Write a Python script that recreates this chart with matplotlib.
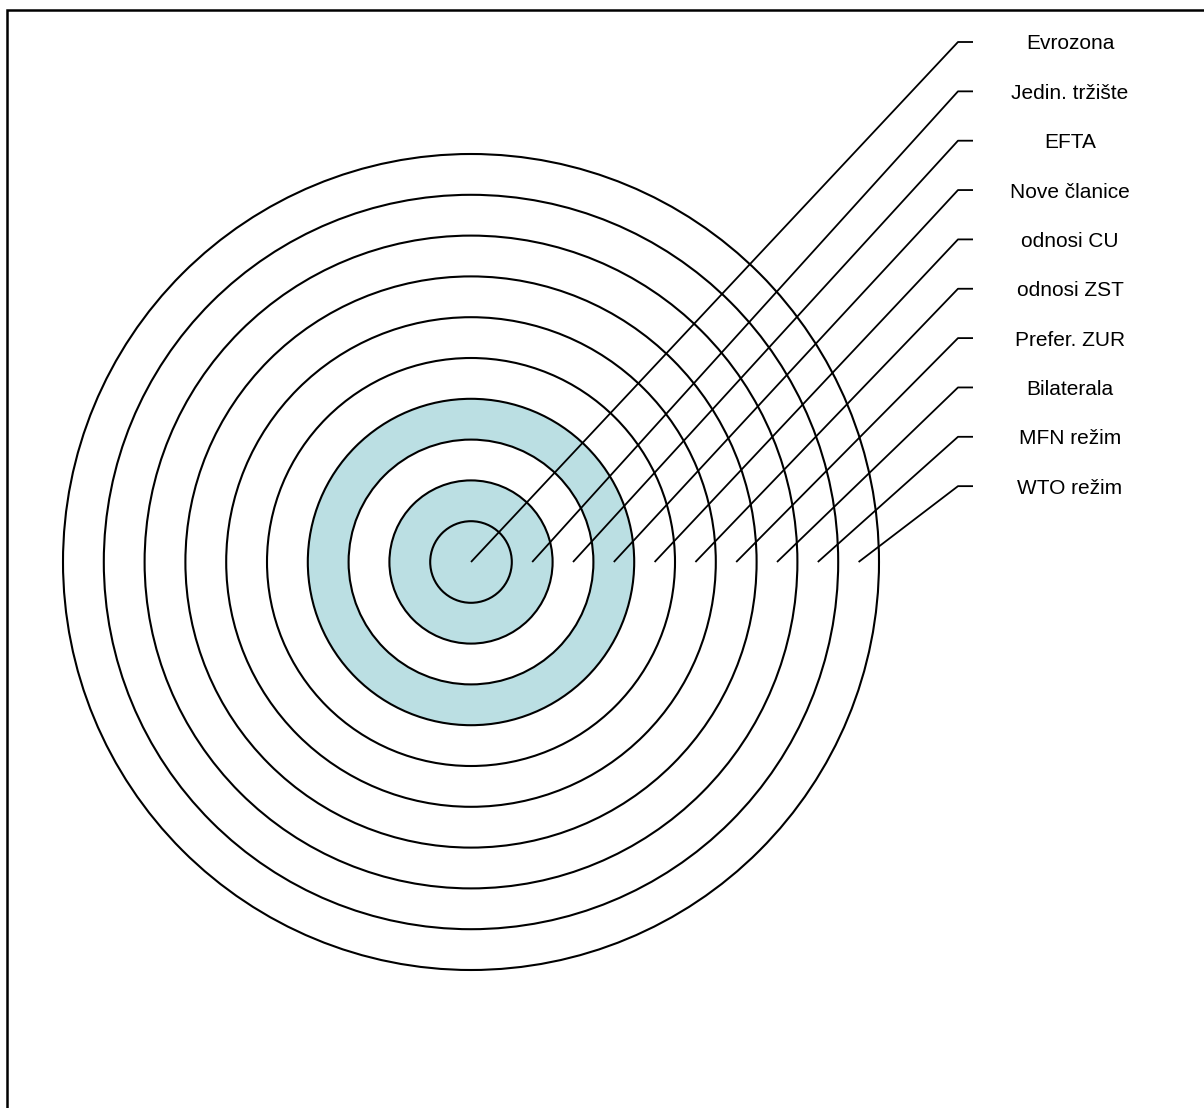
import matplotlib
matplotlib.use("Agg")
import matplotlib.pyplot as plt
from matplotlib.patches import Circle, Rectangle
import numpy as np

# ---- data ----
labels = ["Evrozona", "Jedin. tržište", "EFTA", "Nove članice", "odnosi CU",
          "odnosi ZST", "Prefer. ZUR", "Bilaterala", "MFN režim", "WTO režim"]
ring_widths = [1, 1, 1, 1, 1, 1, 1, 1, 1, 1]
ring_colors = ["#BBDFE3", "#BBDFE3", "#FFFFFF", "#BBDFE3", "#FFFFFF",
               "#FFFFFF", "#FFFFFF", "#FFFFFF", "#FFFFFF", "#FFFFFF"]

# ---- layout ----
W, H = 1204, 1108
cx_px, cy_px = 471, 562
unit_px = 40.8

fig = plt.figure(figsize=(W / 100, H / 100), dpi=100)
ax = fig.add_axes([0, 0, 1, 1])
ax.set_xlim(-cx_px / unit_px, (W - cx_px) / unit_px)
ax.set_ylim(-(H - cy_px) / unit_px, cy_px / unit_px)
ax.axis("off")

outer = np.cumsum(ring_widths)
inner = outer - np.array(ring_widths)

# rings, outermost first
for r, col in sorted(zip(outer, ring_colors), key=lambda t: -t[0]):
    ax.add_patch(Circle((0, 0), r, facecolor=col, edgecolor="black",
                        linewidth=1.5, zorder=1))

# leader lines and labels
kink_x = (958 - cx_px) / unit_px
tick_x = (973 - cx_px) / unit_px
text_x = (1070 - cx_px) / unit_px
label_y0 = (cy_px - 42) / unit_px
label_step = 49.35 / unit_px

for i, lab in enumerate(labels):
    anchor = 0.0 if inner[i] == 0 else (inner[i] + outer[i]) / 2
    ly = label_y0 - i * label_step
    ax.plot([anchor, kink_x, tick_x], [0, ly, ly], color="black",
            linewidth=1.3, zorder=3, solid_capstyle="butt")
    ax.text(text_x, ly, lab, ha="center", va="center_baseline",
            fontsize=15, family=["Liberation Sans", "DejaVu Sans"],
            color="black", zorder=4)

# frame (left and top edges visible)
fig.patches.append(Rectangle((7 / W, -0.1), 1.2, (H - 10) / H + 0.1,
                             transform=fig.transFigure, fill=False,
                             edgecolor="black", linewidth=1.8))

fig.savefig("out.png", dpi=100)
